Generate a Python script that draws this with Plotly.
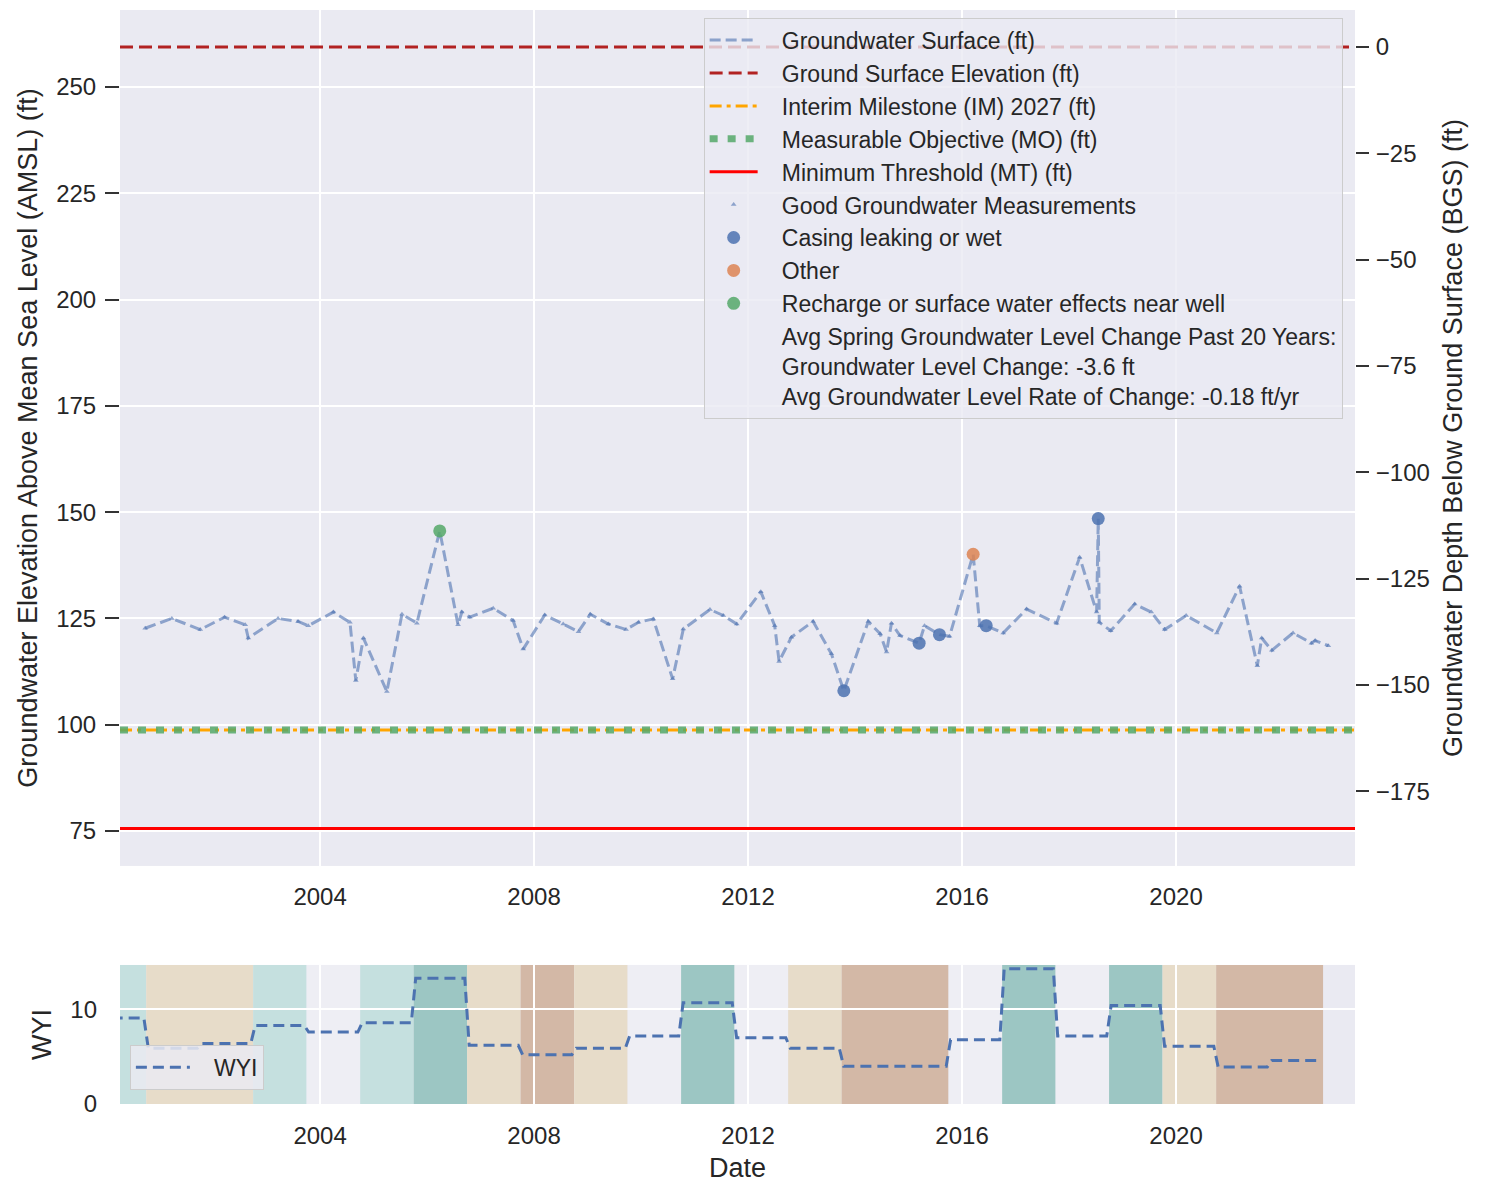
import plotly.graph_objects as go

# ---------------- data ----------------
meas_dates = [
    "2000-09-24", "2001-03-25", "2001-10-05", "2002-03-20", "2002-08-08", "2002-08-29",
    "2003-03-20", "2003-08-04", "2003-10-12", "2004-04-01", "2004-07-23", "2004-09-01",
    "2004-10-23", "2005-04-01", "2005-07-13", "2005-10-23", "2006-03-28", "2006-07-31",
    "2006-08-26", "2006-10-19", "2007-03-28", "2007-08-11", "2007-10-19", "2008-03-14",
    "2008-07-18", "2008-10-30", "2009-01-19", "2009-05-22", "2009-09-20", "2009-12-14",
    "2010-03-25", "2010-08-04", "2010-10-16", "2011-04-16", "2011-07-16", "2011-10-16",
    "2012-03-28", "2012-07-01", "2012-07-31", "2012-10-23", "2013-03-20", "2013-07-23",
    "2013-10-16", "2014-04-01", "2014-06-21", "2014-08-04", "2014-09-06", "2014-11-03",
    "2015-03-14", "2015-04-20", "2015-07-31", "2015-10-08", "2016-03-17", "2016-05-01",
    "2016-06-14", "2016-10-08", "2017-03-17", "2017-10-08", "2018-03-14", "2018-07-08",
    "2018-07-19", "2018-07-26", "2018-10-12", "2019-03-25", "2019-07-16", "2019-10-16",
    "2020-03-10", "2020-10-05", "2021-03-10", "2021-07-09", "2021-08-08", "2021-10-16",
    "2022-03-10", "2022-07-13", "2022-08-08", "2022-11-06",
]
meas_values = [
    122.7, 125.0, 122.4, 125.3, 123.5, 120.4,
    125.0, 124.3, 123.3, 126.5, 124.1, 110.4,
    120.4, 107.8, 126.0, 123.9, 145.6, 123.5,
    126.5, 125.3, 127.4, 124.5, 117.8, 125.8,
    123.7, 121.9, 126.0, 123.7, 122.4, 124.1,
    124.9, 110.8, 122.5, 127.1, 125.7, 123.7,
    131.3, 123.3, 114.9, 120.6, 124.3, 116.7,
    108.0, 124.3, 121.4, 117.1, 123.9, 121.0,
    119.2, 123.3, 121.2, 120.8, 140.1, 123.3,
    123.3, 121.6, 127.2, 123.9, 139.4, 126.5,
    148.5, 124.1, 122.1, 128.4, 126.5, 122.4,
    125.7, 121.6, 132.6, 113.9, 120.4, 117.5,
    121.6, 119.2, 119.8, 118.6,
]
meas_flags = [
    "good", "good", "good", "good", "good", "good",
    "good", "good", "good", "good", "good", "good",
    "good", "good", "good", "good", "recharge", "good",
    "good", "good", "good", "good", "good", "good",
    "good", "good", "good", "good", "good", "good",
    "good", "good", "good", "good", "good", "good",
    "good", "good", "good", "good", "good", "good",
    "casing", "good", "good", "good", "good", "good",
    "casing", "good", "casing", "good", "other", "good",
    "casing", "good", "good", "good", "good", "good",
    "casing", "good", "good", "good", "good", "good",
    "good", "good", "good", "good", "good", "good",
    "good", "good", "good", "good",
]

ground_surface_elev = 259.4
interim_milestone = 98.8
measurable_objective = 98.8
minimum_threshold = 75.6

stats_lines = ["Avg Spring Groundwater Level Change Past 20 Years:",
               "Groundwater Level Change: -3.6 ft",
               "Avg Groundwater Level Rate of Change: -0.18 ft/yr"]

water_years = [2000, 2001, 2002, 2003, 2004, 2005, 2006, 2007, 2008, 2009, 2010, 2011,
               2012, 2013, 2014, 2015, 2016, 2017, 2018, 2019, 2020, 2021, 2022]
wyi_values = [9.1, 5.9, 6.4, 8.3, 7.6, 8.6, 13.3, 6.2, 5.2, 5.9, 7.2, 10.7,
              7.0, 5.9, 4.0, 4.0, 6.8, 14.3, 7.2, 10.4, 6.1, 3.9, 4.6]
wy_types = ["AN", "D", "D", "AN", "BN", "AN", "W", "D", "C", "D", "BN", "W",
            "BN", "D", "C", "C", "BN", "W", "BN", "W", "D", "C", "C"]

left_ticks = [75, 100, 125, 150, 175, 200, 225, 250]
right_ticks = [0, -25, -50, -75, -100, -125, -150, -175]
year_ticks = ["2004-01-01", "2008-01-01", "2012-01-01", "2016-01-01", "2020-01-01"]
year_tick_labels = ["2004", "2008", "2012", "2016", "2020"]

# ---------------- styling ----------------
FONT = "Liberation Sans, Arial, Helvetica, sans-serif"
BG = "#EAEAF2"
PAD = "\u00a0\u00a0\u00a0"
x_range = ["2000-04-05", "2023-05-07"]
y_range = [66.8, 268.1]
y_range_bgs = [y_range[0] - ground_surface_elev, y_range[1] - ground_surface_elev]

C_BLUE = "#4C72B0"
C_ORANGE = "#DD8452"
C_GREEN = "#55A868"
wy_colors = {"W": "#9CC6C3", "AN": "#C5E0DF", "BN": "#EEEEF4", "D": "#E7DCC9", "C": "#D3B8A6"}

fig = go.Figure()

fig.add_trace(go.Scatter(
    x=meas_dates, y=meas_values, mode="lines", name=PAD + "Groundwater Surface (ft)",
    line=dict(color="rgba(76,114,176,0.6)", width=3, dash="11px,5px"),
    xaxis="x", yaxis="y",
))
fig.add_trace(go.Scatter(
    x=x_range, y=[ground_surface_elev] * 2, mode="lines", name=PAD + "Ground Surface Elevation (ft)",
    line=dict(color="#B22222", width=2.8, dash="13px,6px"), xaxis="x", yaxis="y",
))
fig.add_trace(go.Scatter(
    x=x_range, y=[interim_milestone] * 2, mode="lines", name=PAD + "Interim Milestone (IM) 2027 (ft)",
    line=dict(color="#FFA500", width=3, dash="12px,5px,4px,5px"), xaxis="x", yaxis="y",
))
fig.add_trace(go.Scatter(
    x=x_range, y=[measurable_objective] * 2, mode="lines", name=PAD + "Measurable Objective (MO) (ft)",
    line=dict(color="rgba(85,168,104,0.85)", width=7, dash="8px,10px"), xaxis="x", yaxis="y",
))
fig.add_trace(go.Scatter(
    x=x_range, y=[minimum_threshold] * 2, mode="lines", name=PAD + "Minimum Threshold (MT) (ft)",
    line=dict(color="#FF0000", width=3), xaxis="x", yaxis="y",
))

def subset(flag):
    xs = [d for d, f in zip(meas_dates, meas_flags) if f == flag]
    ys = [v for v, f in zip(meas_values, meas_flags) if f == flag]
    return xs, ys

gx, gy = subset("good")
fig.add_trace(go.Scatter(
    x=gx, y=gy, mode="markers", name=PAD + "Good Groundwater Measurements",
    marker=dict(symbol="triangle-up", size=5, color="rgba(76,114,176,0.6)"),
    xaxis="x", yaxis="y",
))
for flag, label, col in [("casing", "Casing leaking or wet", C_BLUE),
                         ("other", "Other", C_ORANGE),
                         ("recharge", "Recharge or surface water effects near well", C_GREEN)]:
    fx, fy = subset(flag)
    fig.add_trace(go.Scatter(
        x=fx, y=fy, mode="markers", name=PAD + label,
        marker=dict(symbol="circle", size=13, color=col, opacity=0.85),
        xaxis="x", yaxis="y",
    ))
fig.add_trace(go.Scatter(
    x=[None], y=[None], mode="markers", name="<br>".join(PAD + s for s in stats_lines),
    marker=dict(size=1, color="rgba(0,0,0,0)"), xaxis="x", yaxis="y",
))

# invisible trace on right (BGS) axis
fig.add_trace(go.Scatter(
    x=x_range, y=[0, 0], mode="lines", line=dict(color="rgba(0,0,0,0)", width=0),
    showlegend=False, hoverinfo="skip", xaxis="x", yaxis="y3",
))

# WYI step line
wyi_x, wyi_y = [], []
for wy, v in zip(water_years, wyi_values):
    wyi_x += [f"{wy - 1}-10-15", f"{wy}-09-15"]
    wyi_y += [v, v]
fig.add_trace(go.Scatter(
    x=wyi_x, y=wyi_y, mode="lines", name=PAD + "WYI",
    line=dict(color=C_BLUE, width=3, dash="11px,6px"),
    xaxis="x2", yaxis="y2", legend="legend2",
))

# Water year type shading (merge consecutive years of the same type)
shapes = []
runs = []
for wy, t in zip(water_years, wy_types):
    if runs and runs[-1][2] == t and runs[-1][1] == wy - 1:
        runs[-1][1] = wy
    else:
        runs.append([wy, wy, t])
for start, end, t in runs:
    shapes.append(dict(
        type="rect", xref="x2", yref="y2 domain", x0=f"{start - 1}-10-01", x1=f"{end}-10-01",
        y0=0, y1=1, fillcolor=wy_colors[t], line=dict(width=0), layer="below",
    ))

tickfont = dict(family=FONT, size=24, color="#262626")
titlefont = dict(family=FONT, size=27, color="#262626")

fig.update_layout(
    width=1479, height=1175,
    paper_bgcolor="white", plot_bgcolor=BG,
    margin=dict(l=112, r=132, t=2, b=79),
    font=dict(family=FONT, color="#262626"),
    shapes=shapes,
    xaxis=dict(domain=[0, 1], range=x_range, anchor="y", type="date",
               tickvals=year_ticks, ticktext=year_tick_labels, tickfont=tickfont,
               showgrid=True, gridcolor="white", gridwidth=1.5, zeroline=False,
               ticks="", ticklabelstandoff=14, showline=False),
    yaxis=dict(domain=[0.2176, 1], range=y_range, anchor="x",
               tickvals=left_ticks, tickfont=tickfont,
               showgrid=True, gridcolor="white", gridwidth=1.5, zeroline=False,
               ticks="outside", ticklen=14, tickwidth=1.5, tickcolor="#333333",
               ticklabelstandoff=4,
               title=dict(text="Groundwater Elevation Above Mean Sea Level (AMSL) (ft)",
                          font=titlefont, standoff=10)),
    yaxis3=dict(overlaying="y", side="right", anchor="x", range=y_range_bgs,
                tickvals=right_ticks, tickfont=tickfont, showgrid=False, zeroline=False,
                ticks="outside", ticklen=13, tickwidth=1.5, tickcolor="#333333",
                ticklabelstandoff=2,
                title=dict(text="Groundwater Depth Below Ground Surface (BGS) (ft)",
                           font=titlefont, standoff=14)),
    xaxis2=dict(domain=[0, 1], range=x_range, anchor="y2", type="date",
                tickvals=year_ticks, ticktext=year_tick_labels, tickfont=tickfont,
                showgrid=True, gridcolor="white", gridwidth=1.5, zeroline=False,
                ticks="", ticklabelstandoff=15,
                title=dict(text="Date", font=titlefont, standoff=13)),
    yaxis2=dict(domain=[0, 0.1271], range=[0, 14.7], anchor="x2",
                tickvals=[0, 10], tickfont=tickfont,
                showgrid=True, gridcolor="white", gridwidth=1.5, zeroline=False,
                ticks="", ticklabelstandoff=22,
                title=dict(text="WYI", font=titlefont, standoff=10)),
    legend=dict(x=0.99, xanchor="right", y=0.993, yanchor="top",
                bgcolor="rgba(234,234,242,0.8)", bordercolor="#CCCCCC", borderwidth=1,
                font=dict(family=FONT, size=23, color="#262626"),
                itemwidth=48, traceorder="normal"),
    legend2=dict(x=0.008, xanchor="left", y=0.054, yanchor="top",
                 bgcolor="rgba(234,234,242,0.85)", bordercolor="#CCCCCC", borderwidth=1,
                 font=dict(family=FONT, size=23, color="#262626"), itemwidth=54),
    showlegend=True,
)

fig.write_html("out.html")
